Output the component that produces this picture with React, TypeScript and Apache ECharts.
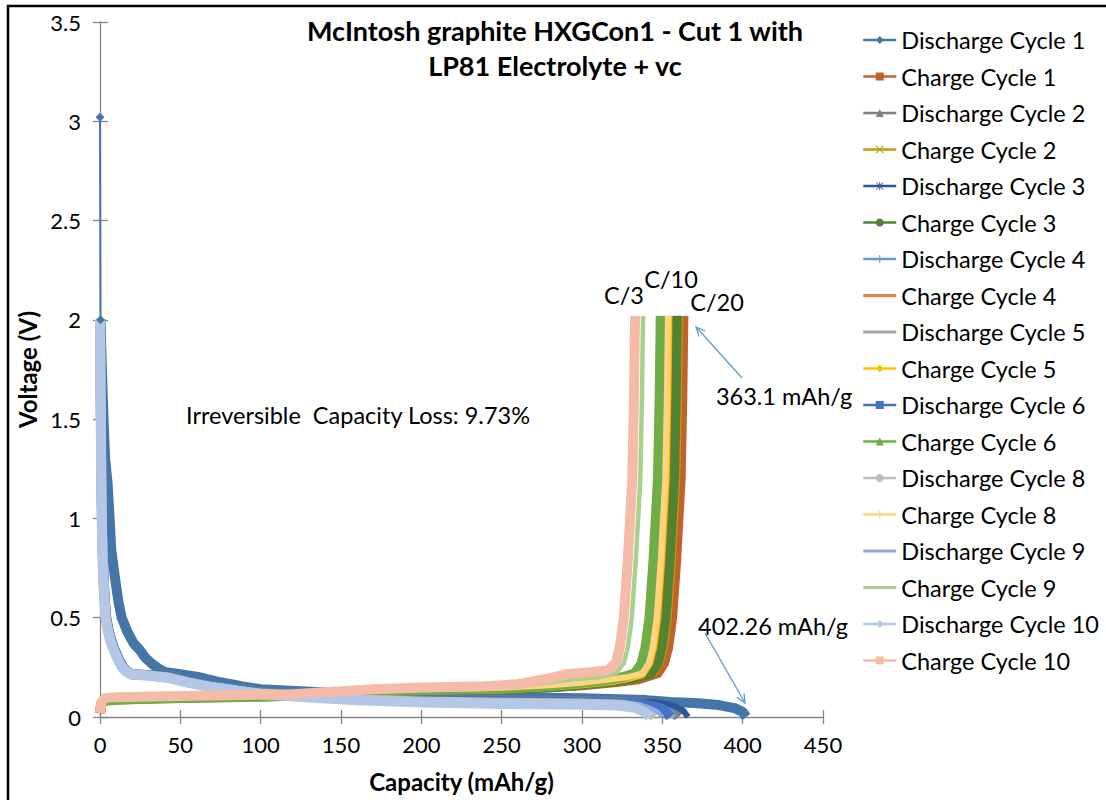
import React, { useEffect, useRef } from 'react';
import * as echarts from 'echarts';

// ---------- chart texts ----------
const titleLines = ['McIntosh graphite HXGCon1 - Cut 1 with', 'LP81 Electrolyte + vc'];
const xAxisTitle = 'Capacity (mAh/g)';
const yAxisTitle = 'Voltage (V)';
const xRange = [0, 450, 50];
const yRange = [0, 3.5, 0.5];

const seriesNames = [
  'Discharge Cycle 1', 'Charge Cycle 1', 'Discharge Cycle 2', 'Charge Cycle 2',
  'Discharge Cycle 3', 'Charge Cycle 3', 'Discharge Cycle 4', 'Charge Cycle 4',
  'Discharge Cycle 5', 'Charge Cycle 5', 'Discharge Cycle 6', 'Charge Cycle 6',
  'Discharge Cycle 8', 'Charge Cycle 8', 'Discharge Cycle 9', 'Charge Cycle 9',
  'Discharge Cycle 10', 'Charge Cycle 10',
];

// ---------- data: [capacity mAh/g, voltage V] ----------
const discharge1 = [[0, 3.02], [0.3, 2.0], [1.2, 1.75], [2.2, 1.5], [3.2, 1.3], [4.7, 1.18], [6, 1.0], [7, 0.84], [9.5, 0.69], [11.5, 0.58], [13.5, 0.5], [17, 0.43], [21, 0.37], [24.5, 0.34], [28, 0.3], [32, 0.27], [37, 0.24], [41, 0.225], [50, 0.215], [62, 0.2], [75, 0.175], [88, 0.155], [100, 0.14], [125, 0.13], [150, 0.12], [200, 0.11], [250, 0.1], [300, 0.095], [340, 0.085], [355, 0.075], [370, 0.07], [385, 0.06], [395, 0.045], [400, 0.025], [402.26, 0]];
const charge1 = [[0, 0.02], [1, 0.07], [3, 0.085], [10, 0.09], [30, 0.095], [60, 0.1], [100, 0.105], [130, 0.11], [150, 0.12], [170, 0.13], [200, 0.135], [250, 0.14], [280, 0.15], [300, 0.16], [320, 0.175], [335, 0.19], [347, 0.22], [351, 0.27], [353.6, 0.35], [356.1, 0.5], [358.6, 0.79], [361.4, 1.2], [362.4, 1.6], [363.1, 2.02]];
const discharge2 = [[0, 2.0], [0.5, 1.6], [0.9, 1.2], [1.4, 0.95], [2, 0.75], [2.9, 0.6], [3.9, 0.5], [5.5, 0.43], [7.6, 0.37], [10.6, 0.31], [13.6, 0.26], [16.6, 0.23], [19.6, 0.215], [30, 0.212], [42, 0.202], [55, 0.178], [68, 0.158], [85, 0.138], [100, 0.123], [130, 0.108], [160, 0.095], [200, 0.088], [250, 0.083], [300, 0.08], [340, 0.072], [351, 0.055], [357, 0.03], [360, 0]];
const charge2 = [[0, 0.03], [1, 0.075], [3, 0.088], [10, 0.092], [30, 0.097], [60, 0.1], [100, 0.106], [130, 0.112], [150, 0.122], [170, 0.13], [200, 0.136], [250, 0.142], [280, 0.152], [300, 0.162], [320, 0.178], [333, 0.195], [345, 0.22], [349, 0.27], [351.5, 0.35], [354, 0.5], [356.5, 0.79], [359.3, 1.2], [360.3, 1.6], [361, 2.02]];
const discharge3 = [[0, 2.0], [0.6, 1.6], [1, 1.2], [1.5, 0.95], [2.2, 0.75], [3.1, 0.6], [4.1, 0.5], [5.8, 0.43], [8, 0.37], [11, 0.31], [14, 0.26], [17, 0.23], [20, 0.215], [30, 0.213], [42, 0.204], [55, 0.18], [68, 0.16], [85, 0.14], [100, 0.125], [130, 0.11], [160, 0.098], [200, 0.09], [250, 0.086], [300, 0.083], [346, 0.075], [357, 0.058], [363, 0.032], [366, 0]];
const charge3 = [[0, 0.02], [1, 0.07], [3, 0.083], [10, 0.088], [30, 0.093], [60, 0.098], [100, 0.103], [130, 0.11], [150, 0.12], [170, 0.128], [200, 0.134], [250, 0.14], [280, 0.15], [300, 0.162], [320, 0.18], [332, 0.195], [343, 0.22], [347, 0.27], [349.5, 0.35], [352, 0.5], [354.5, 0.79], [357.3, 1.2], [358.3, 1.6], [359, 2.02]];
const discharge4 = [[0, 2.0], [0.5, 1.6], [0.9, 1.2], [1.3, 0.95], [1.9, 0.75], [2.8, 0.6], [3.8, 0.5], [5.3, 0.43], [7.4, 0.37], [10.4, 0.31], [13.4, 0.26], [16.4, 0.23], [19.4, 0.215], [30, 0.211], [42, 0.201], [55, 0.177], [68, 0.157], [85, 0.137], [100, 0.122], [130, 0.107], [160, 0.094], [200, 0.087], [250, 0.082], [300, 0.079], [338, 0.07], [349, 0.053], [355, 0.028], [358, 0]];
const charge4 = [[0, 0.03], [1, 0.072], [3, 0.086], [10, 0.09], [30, 0.095], [60, 0.1], [100, 0.105], [130, 0.112], [150, 0.122], [170, 0.13], [200, 0.137], [250, 0.143], [280, 0.155], [300, 0.167], [320, 0.185], [330, 0.2], [339, 0.22], [343, 0.27], [345.5, 0.35], [348, 0.5], [350.5, 0.79], [353.3, 1.2], [354.3, 1.6], [355, 2.02]];
const discharge5 = [[0, 2.0], [0.4, 1.6], [0.9, 1.2], [1.3, 0.95], [1.9, 0.75], [2.7, 0.6], [3.7, 0.5], [5.2, 0.43], [7.3, 0.37], [10.3, 0.31], [13.3, 0.26], [16.3, 0.23], [19.3, 0.215], [30, 0.21], [42, 0.2], [55, 0.176], [68, 0.156], [85, 0.136], [100, 0.121], [130, 0.106], [160, 0.093], [200, 0.086], [250, 0.081], [300, 0.078], [337, 0.07], [348, 0.052], [354, 0.028], [357, 0]];
const charge5 = [[0, 0.04], [1, 0.075], [3, 0.088], [10, 0.092], [30, 0.097], [60, 0.101], [100, 0.107], [130, 0.114], [150, 0.124], [170, 0.132], [200, 0.138], [250, 0.145], [280, 0.157], [300, 0.17], [320, 0.188], [328, 0.2], [337, 0.22], [341, 0.27], [343.5, 0.35], [346, 0.5], [348.5, 0.79], [351.3, 1.2], [352.3, 1.6], [353, 2.02]];
const discharge6 = [[0, 2.0], [0.5, 1.6], [0.9, 1.2], [1.4, 0.95], [2, 0.75], [2.8, 0.6], [3.8, 0.5], [5.4, 0.43], [7.5, 0.37], [10.5, 0.31], [13.5, 0.26], [16.5, 0.23], [19.5, 0.215], [30, 0.21], [42, 0.2], [55, 0.176], [68, 0.156], [85, 0.136], [100, 0.12], [130, 0.105], [160, 0.092], [200, 0.085], [250, 0.08], [300, 0.077], [335, 0.068], [346, 0.05], [352, 0.027], [355, 0]];
const charge6 = [[0, 0.02], [1, 0.068], [3, 0.082], [10, 0.087], [30, 0.092], [60, 0.097], [100, 0.103], [130, 0.11], [150, 0.12], [170, 0.128], [200, 0.135], [250, 0.143], [280, 0.157], [300, 0.172], [318, 0.19], [325, 0.2], [333, 0.22], [337, 0.27], [339.5, 0.35], [342, 0.5], [344.5, 0.79], [347.3, 1.2], [348.3, 1.6], [349, 2.02]];
const discharge8 = [[0, 2.0], [0.4, 1.6], [0.8, 1.2], [1.2, 0.95], [1.8, 0.75], [2.6, 0.6], [3.5, 0.5], [5, 0.43], [7, 0.37], [10, 0.31], [13, 0.26], [16, 0.23], [19, 0.215], [30, 0.209], [42, 0.199], [55, 0.174], [68, 0.154], [85, 0.134], [100, 0.118], [130, 0.102], [160, 0.088], [200, 0.078], [250, 0.072], [300, 0.068], [325, 0.062], [336, 0.048], [342, 0.026], [345, 0]];
const charge8 = [[0, 0.04], [1, 0.078], [3, 0.09], [10, 0.094], [30, 0.098], [60, 0.102], [100, 0.108], [130, 0.115], [150, 0.126], [170, 0.134], [200, 0.14], [250, 0.147], [280, 0.16], [300, 0.172], [318, 0.19], [328, 0.2], [337.5, 0.22], [341.5, 0.27], [344, 0.35], [346.5, 0.5], [349, 0.79], [351.8, 1.2], [352.8, 1.6], [353.5, 2.02]];
const discharge9 = [[0, 2.0], [0.6, 1.6], [1.1, 1.2], [1.7, 0.95], [2.4, 0.75], [3.4, 0.6], [4.5, 0.5], [6.2, 0.43], [8.4, 0.37], [11.4, 0.31], [14.4, 0.26], [17.4, 0.23], [20.4, 0.215], [30, 0.21], [42, 0.2], [55, 0.175], [68, 0.155], [85, 0.135], [100, 0.119], [130, 0.104], [160, 0.09], [200, 0.081], [250, 0.076], [300, 0.072], [330, 0.065], [341, 0.05], [347, 0.027], [350, 0]];
const charge9 = [[0, 0.03], [1, 0.075], [3, 0.09], [10, 0.095], [30, 0.1], [60, 0.104], [100, 0.11], [130, 0.118], [150, 0.13], [170, 0.138], [200, 0.145], [250, 0.155], [275, 0.17], [295, 0.19], [310, 0.2], [321, 0.22], [326, 0.27], [328.5, 0.35], [331, 0.5], [333.5, 0.79], [336.3, 1.2], [337.3, 1.6], [338, 2.02]];
const discharge10 = [[0, 2.0], [0.4, 1.6], [0.8, 1.2], [1.2, 0.95], [1.8, 0.75], [2.6, 0.6], [3.5, 0.5], [5, 0.43], [7, 0.37], [10, 0.31], [13, 0.26], [16, 0.23], [19, 0.215], [30, 0.208], [42, 0.198], [55, 0.172], [68, 0.152], [85, 0.132], [100, 0.115], [130, 0.098], [160, 0.084], [200, 0.073], [250, 0.066], [300, 0.062], [322, 0.058], [333, 0.046], [339, 0.025], [342, 0]];
const charge10 = [[0, 0.02], [1, 0.075], [3, 0.095], [10, 0.1], [40, 0.105], [80, 0.11], [120, 0.115], [150, 0.13], [170, 0.14], [200, 0.148], [240, 0.155], [260, 0.165], [280, 0.195], [290, 0.215], [305, 0.225], [316, 0.235], [321, 0.27], [323.5, 0.35], [326, 0.5], [328.5, 0.79], [331.3, 1.2], [332.3, 1.6], [333, 2.02]];

const seriesData = [
  discharge1, charge1, discharge2, charge2, discharge3, charge3, discharge4, charge4,
  discharge5, charge5, discharge6, charge6, discharge8, charge8, discharge9, charge9,
  discharge10, charge10,
];

// ---------- annotations ----------
const rateLabels = ['C/3', 'C/10', 'C/20'];
const capacityLabels = ['363.1 mAh/g', '402.26 mAh/g'];
const lossLabel = 'Irreversible  Capacity Loss: 9.73%';

// ---------- styles ----------
const seriesColors = [
  '#4676A8', '#C0622B', '#7F7F7F', '#C49A0B', '#2F55A0', '#548235',
  '#5B9BD5', '#ED7D31', '#A5A5A5', '#FFC000', '#4472C4', '#70AD47',
  '#BDBDBD', '#FFD37F', '#8FAADC', '#A9D18E', '#B4C7E7', '#F4BCA8',
];
const X_SYM = 'path://M1,0L5,4L9,0L10,1L6,5L10,9L9,10L5,6L1,10L0,9L4,5L0,1Z';
const PLUS_SYM = 'path://M4.4,0H5.6V4.4H10V5.6H5.6V10H4.4V5.6H0V4.4H4.4Z';
const STAR_SYM = 'path://M4.4,0H5.6V10H4.4Z M0,4.4H10V5.6H0Z M1,0.2L9.8,9L9,9.8L0.2,1Z M9,0.2L9.8,1L1,9.8L0.2,9Z';
const seriesSymbols = [
  'diamond', 'rect', 'triangle', X_SYM, STAR_SYM, 'circle',
  PLUS_SYM, 'none', 'none', 'diamond', 'rect', 'triangle',
  'circle', PLUS_SYM, 'none', 'none', 'diamond', 'rect',
];
const LINE_ICON = 'path://M0,0H30V2.6H0Z';

export default function App() {
  const ref = useRef<HTMLDivElement>(null);

  useEffect(() => {
    document.body.style.margin = '0';
    const chart = echarts.init(ref.current as HTMLDivElement, null, { renderer: 'svg' });
    const FONT = 'Lato, "Open Sans", sans-serif';
    const axisGray = '#868686';

    const bandWidth = (sym: string) => {
      if (sym === 'none') return 4.5;
      if (sym === X_SYM || sym === PLUS_SYM || sym === STAR_SYM) return 6;
      return 10;
    };

    const series: any[] = [];
    // sparse first points of discharge 1 (thin line with marker)
    series.push({
      type: 'line',
      name: seriesNames[0],
      data: discharge1.slice(0, 2),
      symbol: 'diamond',
      symbolSize: 9,
      showSymbol: true,
      lineStyle: { width: 2, color: seriesColors[0] },
      itemStyle: { color: seriesColors[0] },
      silent: true,
    });
    seriesNames.forEach((name, i) => {
      series.push({
        type: 'line',
        name,
        data: i === 0 ? discharge1.slice(1) : seriesData[i],
        symbol: seriesSymbols[i] === 'none' ? 'circle' : seriesSymbols[i],
        showSymbol: false,
        lineStyle: { width: bandWidth(seriesSymbols[i]), color: seriesColors[i], cap: 'butt', join: 'round' },
        itemStyle: { color: seriesColors[i] },
        silent: true,
      });
    });

    const legendData = seriesNames.map((name, i) =>
      seriesSymbols[i] === 'none' ? { name, icon: LINE_ICON } : { name }
    );

    const txt = (text: string, x: number, y: number) => ({
      type: 'text',
      x,
      y,
      silent: true,
      style: {
        text,
        fill: '#000',
        font: `23.5px ${FONT}`,
        textAlign: 'center',
        textVerticalAlign: 'middle',
      },
    });

    const arrowColor = '#5B9BD5';

    chart.setOption({
      animation: false,
      textStyle: { fontFamily: FONT },
      title: {
        text: titleLines.join('\n'),
        left: 555,
        top: 13,
        padding: 0,
        textAlign: 'center',
        textStyle: { fontSize: 27, fontWeight: 'bold', color: '#000', lineHeight: 35, fontFamily: FONT },
      },
      grid: { left: 100, top: 22, width: 723, height: 695, containLabel: false },
      legend: {
        orient: 'vertical',
        left: 862,
        top: 28,
        padding: 0,
        itemWidth: 33,
        itemHeight: 10,
        itemGap: 12.5,
        data: legendData,
        lineStyle: { width: 2.5 },
        textStyle: { fontSize: 23.5, lineHeight: 24, color: '#000', fontFamily: FONT },
        selectedMode: false,
      },
      xAxis: [
        {
          type: 'value',
          min: xRange[0],
          max: xRange[1],
          interval: xRange[2],
          name: xAxisTitle,
          nameLocation: 'middle',
          nameGap: 52,
          nameTextStyle: { fontSize: 24, fontWeight: 'bold', color: '#000', fontFamily: FONT },
          axisLine: { lineStyle: { color: axisGray, width: 1.3 } },
          axisTick: { length: 7, lineStyle: { color: axisGray, width: 1.3 } },
          axisLabel: { fontSize: 22, color: '#000', margin: 16, fontFamily: FONT },
          splitLine: { show: false },
        },
        {
          type: 'value',
          min: xRange[0],
          max: xRange[1],
          interval: xRange[2],
          position: 'bottom',
          axisLine: { show: false, onZero: false },
          axisTick: { inside: true, length: 7, lineStyle: { color: axisGray, width: 1.3 } },
          axisLabel: { show: false },
          splitLine: { show: false },
        },
      ],
      yAxis: [
        {
          type: 'value',
          min: yRange[0],
          max: yRange[1],
          interval: yRange[2],
          name: yAxisTitle,
          nameLocation: 'middle',
          nameGap: 56,
          nameTextStyle: { fontSize: 24, fontWeight: 'bold', color: '#000', fontFamily: FONT },
          axisLine: { show: true, lineStyle: { color: axisGray, width: 1.3 } },
          axisTick: { show: true, length: 7, lineStyle: { color: axisGray, width: 1.3 } },
          axisLabel: { fontSize: 22, color: '#000', margin: 19, fontFamily: FONT },
          splitLine: { show: false },
        },
        {
          type: 'value',
          min: yRange[0],
          max: yRange[1],
          interval: yRange[2],
          position: 'left',
          axisLine: { show: false, onZero: false },
          axisTick: { show: true, inside: true, length: 8, lineStyle: { color: axisGray, width: 1.3 } },
          axisLabel: { show: false },
          splitLine: { show: false },
        },
      ],
      series,
      graphic: [
        {
          type: 'rect',
          silent: true,
          shape: { x: 8, y: 6, width: 1200, height: 900 },
          style: { fill: 'none', stroke: '#000', lineWidth: 2.5 },
          z: 100,
        },
        txt(rateLabels[0], 624, 295),
        txt(rateLabels[1], 671, 279),
        txt(rateLabels[2], 717, 302),
        txt(capacityLabels[0], 784, 396),
        txt(capacityLabels[1], 773, 626),
        txt(lossLabel, 358, 415),
        {
          type: 'line',
          silent: true,
          shape: { x1: 742, y1: 378, x2: 697, y2: 328 },
          style: { stroke: arrowColor, lineWidth: 1.3 },
        },
        {
          type: 'polyline',
          silent: true,
          shape: { points: [[705, 331], [696, 327], [699.1, 336.4]] },
          style: { stroke: arrowColor, lineWidth: 1.3, fill: 'none' },
        },
        {
          type: 'line',
          silent: true,
          shape: { x1: 705, y1: 633, x2: 744.5, y2: 702 },
          style: { stroke: arrowColor, lineWidth: 1.3 },
        },
        {
          type: 'polyline',
          silent: true,
          shape: { points: [[744, 693.2], [745, 703], [737, 697.2]] },
          style: { stroke: arrowColor, lineWidth: 1.3, fill: 'none' },
        },
      ],
    });

    return () => chart.dispose();
  }, []);

  return <div ref={ref} style={{ width: 1106, height: 800 }} />;
}
